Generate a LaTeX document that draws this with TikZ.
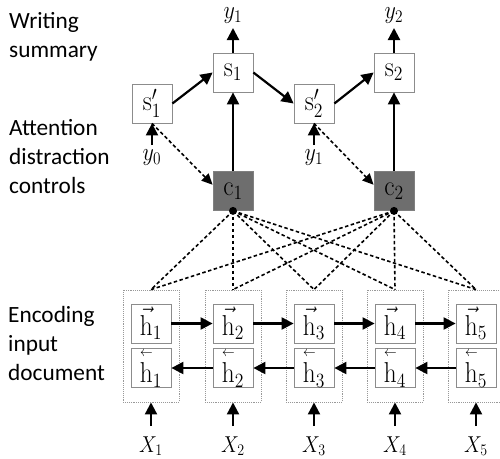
\RequirePackage{fix-cm}
\documentclass[tikz,border=0pt]{standalone}
\usepackage{amsmath}
\usepackage{graphicx}
\usepackage[no-math]{fontspec}
\newfontfamily\sidefont{Carlito}
\usetikzlibrary{arrows.meta,calc}
\newcommand{\lvh}{\overset{\scriptscriptstyle\leftarrow}{\mathrm{h}}}
\newcommand{\cm}[1]{\scalebox{1.05}[1.2]{$#1$}}
\begin{document}
\begin{tikzpicture}[x=1pt,y=-1pt,
  mfont/.style={font=\fontsize{24}{28}\selectfont},
  cell/.style={draw=black!45, line width=0.8pt, minimum width=40pt, minimum height=39pt, inner sep=0pt, mfont, fill=white},
  ctx/.style={cell, fill=black!57, draw=black!50},
  outer/.style={draw=black!40, densely dotted, line width=0.9pt, minimum width=56pt, minimum height=112pt, inner sep=0pt},
  lbl/.style={font=\fontsize{22}{26}\selectfont, inner sep=0pt},
  xlbl/.style={font=\fontsize{20}{24}\selectfont, inner sep=0pt},
  side/.style={font=\sidefont\fontsize{23.3}{29}\selectfont, align=left, anchor=west, inner sep=0pt},
  arr/.style={line width=2.2pt, -{Triangle[length=12pt,width=12pt]}},
  darr/.style={line width=1.6pt, dash pattern=on 3.5pt off 2.5pt, -{Triangle[length=11pt,width=10pt]}},
  dline/.style={line width=1.6pt, dash pattern=on 3.5pt off 2.5pt},
]
\useasboundingbox (0,0) rectangle (500,458);

% side labels
\node[side] (L1) at (9,37) {Writing\\summary};
\node[side] (L2) at (9,157) {Attention\\distraction\\controls};
\node[side] (L3) at (8,343) {Encoding\\input\\document};

% encoder
\foreach \i/\cx in {1/151,2/233,3/314,4/395,5/476}{
  \node[outer] (o\i) at (\cx,346) {};
  \node[cell] (f\i) at (\cx,323.5) {\cm{\vec{\mathrm{h}}_{\i}}};
  \node[cell] (b\i) at (\cx,368) {\cm{\lvh_{\i}}};
  \node[xlbl] (x\i) at (\cx,446) {\scalebox{1}[1.15]{$X_{\i}$}};
  \coordinate (xa\i) at (\cx,426);
  \draw[arr] (xa\i) -- (o\i.south);
}
\foreach \a/\b in {1/2,2/3,3/4,4/5}{
  \draw[arr] (f\a.east) -- (f\b.west);
  \draw[arr] (b\b.west) -- (b\a.east);
}

% context
\node[ctx] (c1) at (233,191) {\cm{\mathrm{c}_1}};
\node[ctx] (c2) at (394,191) {\cm{\mathrm{c}_2}};

% decoder
\node[cell] (s1) at (233,72.5) {\cm{\mathrm{s}_1}};
\node[cell] (s2) at (394,72.5) {\cm{\mathrm{s}_2}};
\node[cell] (p1) at (152,103.5) {\cm{\mathrm{s}'_1}};
\node[cell] (p2) at (314,103.5) {\cm{\mathrm{s}'_2}};

\node[lbl] (y1t) at (233,16) {\scalebox{1}[1.15]{$y_1$}};
\node[lbl] (y2t) at (394,16) {\scalebox{1}[1.15]{$y_2$}};
\coordinate (y1a) at (233,28);
\coordinate (y2a) at (394,28);
\draw[arr] (s1.north) -- (y1a);
\draw[arr] (s2.north) -- (y2a);

\node[lbl] (y0b) at (152,158) {\scalebox{1}[1.15]{$y_0$}};
\node[lbl] (y1b) at (314,158) {\scalebox{1}[1.15]{$y_1$}};
\coordinate (y0a) at (152,145);
\coordinate (y1ba) at (314,145);
\draw[arr] (y0a) -- (p1.south);
\draw[arr] (y1ba) -- (p2.south);

\draw[arr] (p1.east) -- (s1.west);
\draw[arr] (s1.east) -- (p2.west);
\draw[arr] (p2.east) -- (s2.west);
\draw[arr] (c1.north) -- (s1.south);
\draw[arr] (c2.north) -- (s2.south);

\draw[darr] (p1.south) -- (c1.163);
\draw[darr] (p2.south) -- (c2.163);

\foreach \i in {1,...,5}{
  \draw[dline] (c1.south) -- (o\i.north);
  \draw[dline] (c2.south) -- (o\i.north);
}
\fill (c1.south) circle (4pt);
\fill (c2.south) circle (4pt);
\end{tikzpicture}
\end{document}
